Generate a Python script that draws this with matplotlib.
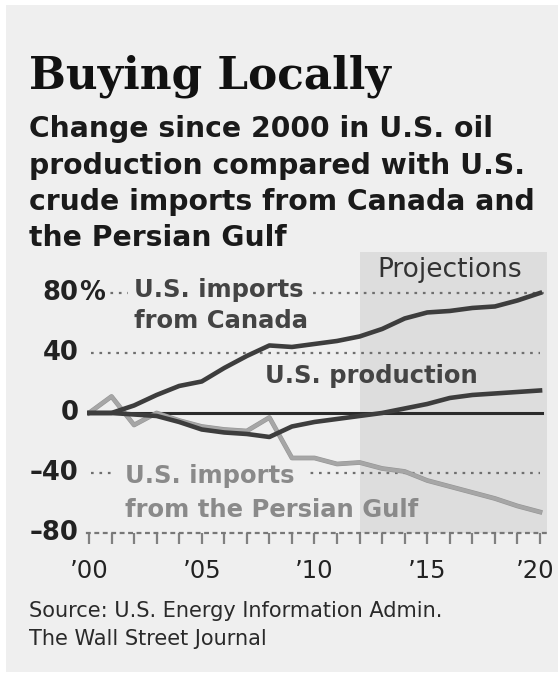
import matplotlib
matplotlib.use("Agg")
import matplotlib.pyplot as plt
import matplotlib.patheffects as pe
import matplotlib.transforms as mtransforms
from matplotlib.patches import Rectangle

years = list(range(2000, 2021))
canada = [0, 0, 5, 12, 18, 21, 30, 38, 45, 44, 46, 48, 51, 56, 63, 67, 68, 70, 71, 75, 80]
production = [0, 0, -1, -2, -6, -11, -13, -14, -16, -9, -6, -4, -2, 0, 3, 6, 10, 12, 13, 14, 15]
gulf = [0, 11, -8, 0, -5, -9, -11, -12, -3, -30, -30, -34, -33, -37, -39, -45, -49, -53, -57, -62, -66]

grid_levels = [40, -40]
ytick_vals = [80, 40, 0, -40, -80]
ytick_text = ["80", "40", "0", "–40", "–80"]
xtick_labels = {2000: "’00", 2005: "’05", 2010: "’10", 2015: "’15", 2020: "’20"}
projection_start = 2012

W, H = 558, 674
BG = "#efefef"
DARK = "#3d3d3d"
LIGHT = "#a6a6a6"

fig = plt.figure(figsize=(W / 100, H / 100), dpi=100)
fig.patch.set_facecolor("white")
fig.patches.append(Rectangle((6 / W, 2 / H), 1, 1 - 7 / H, transform=fig.transFigure,
                             facecolor=BG, edgecolor="none", zorder=-10))


def fx(x):
    return x / W


def fy(y):
    return 1 - y / H


# headline and subhead
fig.text(fx(29), fy(89), "Buying Locally", family="DejaVu Serif", weight="bold",
         fontsize=31.5, color="#111111", va="baseline")
sub_lines = ["Change since 2000 in U.S. oil",
             "production compared with U.S.",
             "crude imports from Canada and",
             "the Persian Gulf"]
for i, line in enumerate(sub_lines):
    fig.text(fx(29), fy(137 + 36.5 * i), line, family="DejaVu Sans", weight="bold",
             fontsize=20.3, color="#1a1a1a", va="baseline")

fig.text(fx(29), fy(617), "Source: U.S. Energy Information Admin.", family="DejaVu Sans",
         fontsize=15, color="#2a2a2a", va="baseline")
fig.text(fx(29), fy(645), "The Wall Street Journal", family="DejaVu Sans",
         fontsize=15, color="#2a2a2a", va="baseline")

# plot area
left, right, top, bottom = 86.7, 546.8, 252, 533
ax = fig.add_axes([fx(left), fy(bottom), (right - left) / W, (bottom - top) / H])
ax.set_facecolor("none")
ax.set_xlim(1999.9, 2020.3)
ax.set_ylim(-80, 107.3)

ax.axvspan(projection_start, 2020.3, color="#dddddd", lw=0, zorder=0)
ax.text(2012.8, 90.5, "Projections", fontsize=19, color="#333333", va="baseline", zorder=2)

# dotted guides
for lvl in grid_levels:
    ax.axhline(lvl, xmin=0.01, xmax=0.985, color="#6f6f6f", lw=1.6,
               ls=(0, (1.2, 2.6)), zorder=1)
ax.hlines(80, 2000.6, 2020.2, color="#6f6f6f", lw=1.6, ls=(0, (1.2, 2.6)), zorder=1)
ax.axhline(0, xmin=0.01, xmax=0.99, color="#2b2b2b", lw=2.2, zorder=2.5)

# y labels, with the % sign hanging past the numbers
lab_x = -8 / (right - left)
for v, t in zip(ytick_vals, ytick_text):
    ax.text(lab_x, v, t, transform=ax.get_yaxis_transform(), ha="right", va="center",
            fontsize=18.5, weight="bold", color="#222222")
ax.text(lab_x, 80, "%", transform=ax.get_yaxis_transform(), ha="left", va="center",
        fontsize=18.5, weight="bold", color="#222222")
ax.set_yticks([])

# bottom axis: dotted rule with a tick every year
for s in ["left", "right", "top"]:
    ax.spines[s].set_visible(False)
ax.spines["bottom"].set_color("#777777")
ax.spines["bottom"].set_linestyle((0, (1.2, 2.6)))
ax.spines["bottom"].set_linewidth(1.6)
ax.set_xticks(years)
ax.set_xticklabels([xtick_labels.get(y, "") for y in years], fontsize=17.5, color="#222222")
ax.tick_params(axis="x", length=8, width=1.6, color="#808080", pad=11, direction="out")
# nudge the last year label so it stays inside the frame
last = ax.get_xticklabels()[-1]
last.set_transform(last.get_transform() +
                   mtransforms.ScaledTranslation(-5 / 100, 0, fig.dpi_scale_trans))

# series
ax.plot(years, gulf, color=LIGHT, lw=2.6, zorder=3,
        path_effects=[pe.Stroke(linewidth=3.4, foreground="#959595"), pe.Normal()])
ax.plot(years, production, color=DARK, lw=3.3, zorder=4)
ax.plot(years, canada, color=DARK, lw=3.3, zorder=4)

# series labels
mask = dict(facecolor=BG, edgecolor="none", pad=4)
ax.text(2002.0, 77.3, "U.S. imports", fontsize=17.5, weight="bold", color="#444444",
        va="baseline", bbox=mask, zorder=2)
ax.text(2002.0, 56.7, "from Canada", fontsize=17.5, weight="bold", color="#444444",
        va="baseline", zorder=2)
ax.text(2007.8, 20, "U.S. production", fontsize=17.5, weight="bold", color="#444444",
        va="baseline", zorder=2)
ax.text(2001.6, -46.7, "U.S. imports", fontsize=17.5, weight="bold", color="#8a8a8a",
        va="baseline", bbox=dict(facecolor=BG, edgecolor="none", pad=8), zorder=2)
ax.text(2001.6, -69.3, "from the Persian Gulf", fontsize=17.5, weight="bold", color="#8a8a8a",
        va="baseline", zorder=2)

fig.savefig("out.png", dpi=100, facecolor=fig.get_facecolor())
